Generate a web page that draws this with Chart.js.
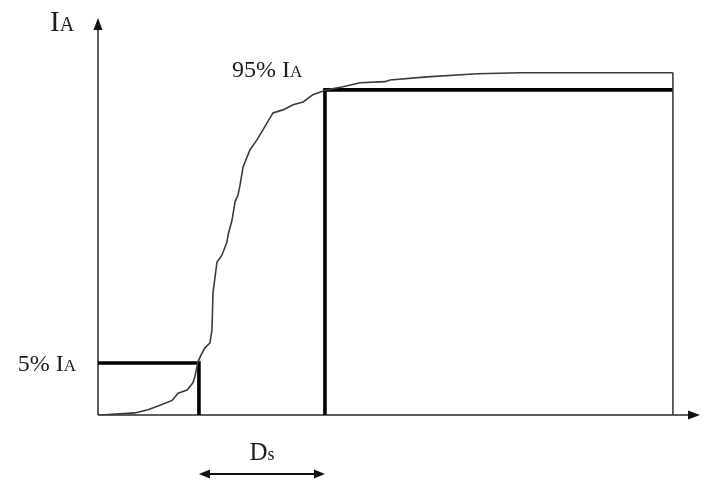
<!DOCTYPE html>
<html>
<head>
<meta charset="utf-8">
<title>Husid plot</title>
<script src="https://cdn.jsdelivr.net/npm/chart.js"></script>
<style>
  html, body { margin: 0; padding: 0; background: #fff; }
  #wrap { width: 721px; height: 484px; position: relative; }
</style>
</head>
<body>
<div id="wrap"><canvas id="husid"></canvas></div>
<script>
// cumulative Arias intensity (fraction of final I_A) against time (s)
const curveTime = [0.10, 1.84, 2.49, 3.19, 3.69, 3.99, 4.44, 4.73, 4.83, 4.93, 4.98,
  5.13, 5.33, 5.58, 5.68, 5.73, 5.93, 6.18, 6.43, 6.48, 6.68, 6.83, 6.98, 7.08, 7.23,
  7.57, 7.92, 8.22, 8.72, 9.22, 9.72, 10.22, 10.71, 11.41, 12.21, 13.06, 14.30, 14.55,
  16.40, 18.89, 21.03, 24.67, 26.86, 28.65];
const curveIA = [0, 0.002, 0.005, 0.010, 0.014, 0.021, 0.024, 0.031, 0.037, 0.046, 0.053,
  0.076, 0.100, 0.116, 0.159, 0.281, 0.383, 0.406, 0.449, 0.472, 0.521, 0.581, 0.604,
  0.637, 0.696, 0.752, 0.785, 0.818, 0.874, 0.884, 0.901, 0.910, 0.934, 0.950, 0.959,
  0.971, 0.974, 0.979, 0.988, 0.997, 1.000, 1.000, 1.000, 1.000];

// 5% and 95% levels and the times they are reached
const levels = [0.05, 0.95];
const levelTimes = [5.03, 11.31];
const recordEnd = 28.65;

// text pieces: main part, small-cap part
const axisTitle = ['I', 'A'];
const levelLabels = [['5% I', 'A'], ['95% I', 'A']];
const durationLabel = ['D', 's'];

// the lowest 5% of I_A is stretched so the 5% level stands clear of the time axis
const yKnots = [0, 0.05, 0.95, 1.16];
const yFrac = [0, 0.131, 0.819, 1];

function piecewise(v, from, to) {
  for (let i = 1; i < from.length; i++) {
    if (v <= from[i] || i === from.length - 1) {
      const r = (v - from[i - 1]) / (from[i] - from[i - 1]);
      return to[i - 1] + r * (to[i] - to[i - 1]);
    }
  }
  return to[to.length - 1];
}

class HusidScale extends Chart.LinearScale {
  getPixelForValue(value) {
    if (value === null || value === undefined) return NaN;
    return this.bottom - piecewise(value, yKnots, yFrac) * (this.bottom - this.top);
  }
  getValueForPixel(pixel) {
    const f = (this.bottom - pixel) / (this.bottom - this.top);
    return piecewise(f, yFrac, yKnots);
  }
}
HusidScale.id = 'husid';
HusidScale.defaults = Chart.LinearScale.defaults;
Chart.register(HusidScale);

const SERIF = '"Liberation Serif", "Times New Roman", serif';
const INK = '#1c1c1c';

function drawText(ctx, parts, x, y, size, align) {
  const small = Math.round(size * 0.7);
  ctx.font = size + 'px ' + SERIF;
  const w1 = ctx.measureText(parts[0]).width;
  ctx.font = small + 'px ' + SERIF;
  const w2 = ctx.measureText(parts[1]).width;
  let left = x;
  if (align === 'right') left = x - w1 - w2;
  if (align === 'center') left = x - (w1 + w2) / 2;
  ctx.textAlign = 'left';
  ctx.textBaseline = 'alphabetic';
  ctx.fillStyle = INK;
  ctx.font = size + 'px ' + SERIF;
  ctx.fillText(parts[0], left, y);
  ctx.font = small + 'px ' + SERIF;
  ctx.fillText(parts[1], left + w1, y);
}

function arrowHead(ctx, x, y, dx, dy, len, half) {
  ctx.beginPath();
  ctx.moveTo(x, y);
  ctx.lineTo(x - dx * len - dy * half, y - dy * len + dx * half);
  ctx.lineTo(x - dx * len + dy * half, y - dy * len - dx * half);
  ctx.closePath();
  ctx.fill();
}

const axesPlugin = {
  id: 'husidAxes',
  beforeDatasetsDraw(chart) {
    const { ctx, chartArea: a, scales } = chart;
    const y0 = scales.y.getPixelForValue(0);
    ctx.save();
    ctx.strokeStyle = '#2a2a2a';
    ctx.fillStyle = '#111';
    ctx.lineWidth = 1.5;
    ctx.beginPath();
    ctx.moveTo(a.left, y0);
    ctx.lineTo(a.right - 8, y0);
    ctx.moveTo(a.left, y0);
    ctx.lineTo(a.left, a.top + 8);
    ctx.stroke();
    arrowHead(ctx, a.right, y0, 1, 0, 12, 4.5);
    arrowHead(ctx, a.left, a.top, 0, -1, 12, 4.5);
    ctx.restore();
  },
  afterDraw(chart) {
    const { ctx, chartArea: a, scales } = chart;
    const x = scales.x, y = scales.y;
    const y0 = y.getPixelForValue(0);
    const t5 = x.getPixelForValue(levelTimes[0]);
    const t95 = x.getPixelForValue(levelTimes[1]);
    ctx.save();
    drawText(ctx, axisTitle, a.left - 48, a.top + 13, 29, 'left');
    drawText(ctx, levelLabels[0], a.left - 22, y.getPixelForValue(levels[0]) + 8, 24, 'right');
    drawText(ctx, levelLabels[1], t95 - 93, y.getPixelForValue(levels[1]) - 13, 24, 'left');
    drawText(ctx, durationLabel, (t5 + t95) / 2, y0 + 45, 25, 'center');

    // significant duration arrow
    const ay = y0 + 59;
    ctx.strokeStyle = '#111';
    ctx.fillStyle = '#111';
    ctx.lineWidth = 2;
    ctx.beginPath();
    ctx.moveTo(t5 + 8, ay);
    ctx.lineTo(t95 - 8, ay);
    ctx.stroke();
    arrowHead(ctx, t5, ay, -1, 0, 11, 4.5);
    arrowHead(ctx, t95, ay, 1, 0, 11, 4.5);
    ctx.restore();
  }
};

const pts = (xs, ys) => xs.map((t, i) => ({ x: t, y: ys[i] }));
const lastIA = curveIA[curveIA.length - 1];

new Chart(document.getElementById('husid'), {
  type: 'line',
  data: {
    datasets: [
      {
        label: 'I_A(t)',
        data: pts(curveTime, curveIA),
        borderColor: '#3b3b3b',
        borderWidth: 1.6
      },
      {
        label: 'end of record',
        data: pts([recordEnd, recordEnd], [lastIA, 0]),
        borderColor: '#3b3b3b',
        borderWidth: 1.6
      },
      {
        label: '5%',
        data: pts([0, levelTimes[0], levelTimes[0]], [levels[0], levels[0], 0]),
        borderColor: '#000',
        borderWidth: 3.6
      },
      {
        label: '95%',
        data: pts([levelTimes[1], levelTimes[1], recordEnd], [0, levels[1], levels[1]]),
        borderColor: '#000',
        borderWidth: 3.6
      }
    ]
  },
  options: {
    responsive: true,
    maintainAspectRatio: false,
    animation: false,
    layout: { padding: { left: 98, right: 21, top: 18, bottom: 69 } },
    elements: {
      point: { radius: 0, hoverRadius: 0 },
      line: { tension: 0, fill: false, borderJoinStyle: 'miter', borderCapStyle: 'butt' }
    },
    scales: {
      x: { type: 'linear', min: 0, max: 30, display: false },
      y: { type: 'husid', min: 0, max: 1.16, display: false }
    },
    plugins: {
      legend: { display: false },
      tooltip: { enabled: false }
    }
  },
  plugins: [axesPlugin]
});
</script>
</body>
</html>
